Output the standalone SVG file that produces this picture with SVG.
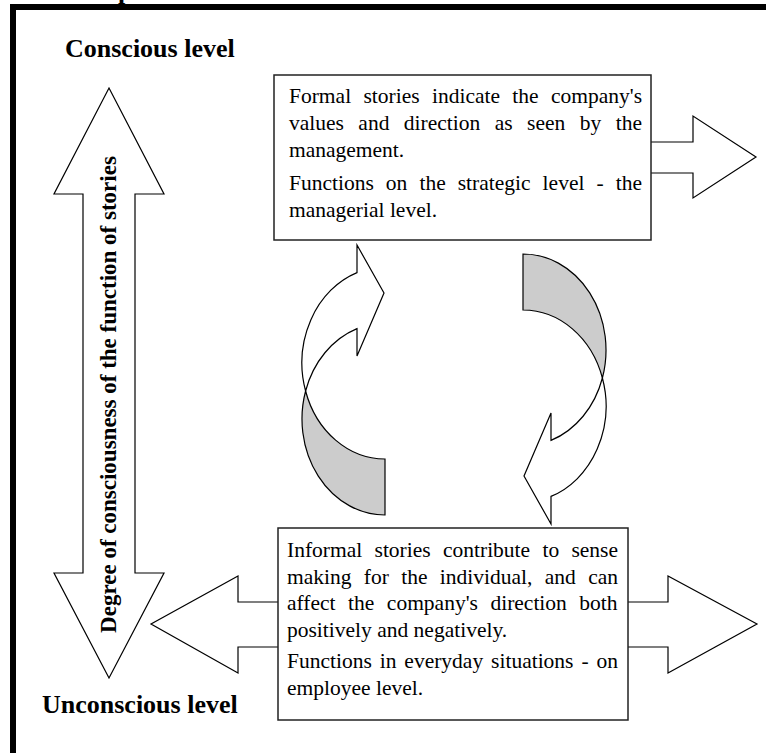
<svg xmlns="http://www.w3.org/2000/svg" width="766" height="753" viewBox="0 0 766 753">
<style>
.frame{fill:none;stroke:#000;stroke-width:6}
.box{fill:#fff;stroke:#222;stroke-width:1.5}
.arrow{fill:#fff;stroke:#000;stroke-width:1.2;stroke-linejoin:miter}
.shade{fill:#ccc;stroke:#000;stroke-width:1.2}
.body{font-family:"Liberation Serif","Times New Roman",serif;font-size:21.5px;fill:#000}
.head{font-family:"Liberation Serif","Times New Roman",serif;font-size:26px;font-weight:bold;fill:#000}
.vert{font-family:"Liberation Serif","Times New Roman",serif;font-size:23px;font-weight:bold;fill:#000}
</style>
<defs>
<g id="curved-arrow">
<path class="shade" d="M305.6 391 A83 96 0 0 0 385 515 L385 459 A83 96 0 0 1 305.6 391 Z"/>
<path class="arrow" d="M305.6 391 A83 96 0 0 1 357 272.6 L357 245 L384 293 L357 356 L357 328.6 A83 96 0 0 0 305.6 391 Z"/>
</g>
</defs>
<path class="frame" d="M13 753 V7 H766"/>
<text class="head" x="118" y="-1">p</text>

<g id="conscious-label"><text class="head" x="65" y="57">Conscious level</text></g>
<g id="unconscious-label"><text class="head" x="42" y="713">Unconscious level</text></g>

<g id="consciousness-axis">
<path class="arrow" d="M109 88 L164 194 H135 V573 H164 L109 678 L54 573 H83 V194 H54 Z"/>
<text class="vert" transform="translate(116 394.5) rotate(-90)" text-anchor="middle">Degree of consciousness of the function of stories</text>
</g>

<g id="formal-stories">
<path class="arrow" d="M651 142 H693 V116 L756 157 L693 198 V173 H651"/>
<rect class="box" x="274" y="75" width="377" height="165"/>
<text class="body" x="289" y="103" word-spacing="6.98">Formal stories indicate the company's</text>
<text class="body" x="289" y="130" word-spacing="9.07">values and direction as seen by the</text>
<text class="body" x="289" y="157">management.</text>
<text class="body" x="289" y="190" word-spacing="6.68">Functions on the strategic level - the</text>
<text class="body" x="289" y="217">managerial level.</text>
</g>

<g id="informal-stories">
<path class="arrow" d="M278 602 H238 V576 L151 624 L238 673 V647 H278"/>
<path class="arrow" d="M628 602 H668 V576 L757 624 L668 673 V647 H628"/>
<rect class="box" x="278" y="528" width="350" height="192"/>
<text class="body" x="287" y="557" word-spacing="6.93">Informal stories contribute to sense</text>
<text class="body" x="287" y="583.5" word-spacing="6.97">making for the individual, and can</text>
<text class="body" x="287" y="610" word-spacing="7.15">affect the company's direction both</text>
<text class="body" x="287" y="637">positively and negatively.</text>
<text class="body" x="287" y="668" word-spacing="2.54">Functions in everyday situations - on</text>
<text class="body" x="287" y="695">employee level.</text>
</g>

<g id="connectors">
<use href="#curved-arrow"/>
<use href="#curved-arrow" transform="rotate(180 454 384.5)"/>
</g>
</svg>
